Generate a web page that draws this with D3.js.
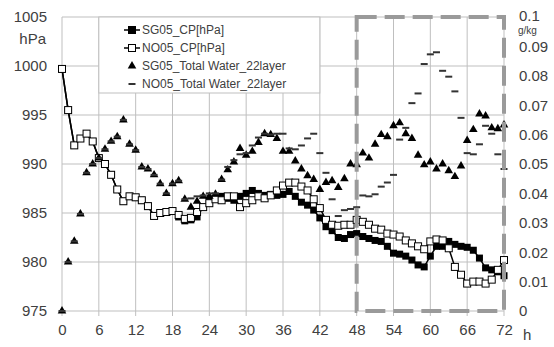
<!DOCTYPE html>
<html>
<head>
<meta charset="utf-8">
<script src="https://cdn.jsdelivr.net/npm/d3@7"></script>
<style>
  body { margin: 0; background: #fff; }
  text { font-family: "Liberation Sans", Arial, sans-serif; fill: #404040; }
</style>
</head>
<body>
<div id="chart"></div>
<script>
// hourly data, 0..72 h
const hours = d3.range(0, 73);

const sgCP = [999.7, 995.5, 991.9, 992.6, 993.1, 992.3, 990.6, 990.0, 988.9, 987.4,
  986.2, 986.7, 986.6, 986.3, 985.7, 984.7, 985.0, 985.1, 985.2, 984.6,
  984.2, 984.3, 984.6, 985.6, 986.2, 986.5, 986.7, 986.5, 986.3, 986.7,
  987.0, 987.3, 987.0, 986.8, 986.9, 986.8, 986.9, 987.2, 986.7, 986.1,
  985.8, 985.3, 984.5, 983.6, 983.2, 982.5, 982.4, 982.8, 982.9, 982.6,
  982.4, 982.2, 982.1, 981.6, 980.9, 980.8, 980.6, 980.2, 979.7, 979.5,
  980.6, 981.6, 981.6, 982.1, 981.8, 981.6, 981.5, 981.2, 980.4, 979.4,
  979.2, 979.0, 978.6];

const noCP = [999.7, 995.5, 991.9, 992.6, 993.1, 992.3, 990.6, 990.0, 988.9, 987.4,
  986.2, 986.7, 986.6, 986.3, 985.7, 984.7, 985.0, 985.1, 985.2, 984.8,
  984.4, 984.5, 985.1, 985.6, 986.0, 986.4, 986.3, 986.7, 986.7, 985.6,
  986.0, 986.3, 986.7, 986.5, 986.8, 987.3, 987.8, 988.1, 988.1, 987.7,
  987.3, 986.4, 985.5, 984.3, 983.8, 983.7, 983.8, 983.8, 984.3, 984.1,
  983.8, 983.4, 983.3, 982.9, 982.8, 982.6, 982.2, 981.9, 981.6, 981.3,
  982.1, 982.3, 982.2, 981.4, 979.5, 978.7, 977.8, 978.0, 978.0, 977.8,
  978.2, 979.2, 980.2];

const sgTW = [0, 0.0167, 0.0237, 0.0330, 0.0470, 0.0500, 0.0520, 0.0550, 0.0577, 0.0593,
  0.0650, 0.0567, 0.0547, 0.0490, 0.0483, 0.0463, 0.0433, 0.0400, 0.0433, 0.0443,
  0.0380, 0.0353, 0.0373, 0.0390, 0.0390, 0.0397, 0.0447, 0.0480, 0.0507, 0.0553,
  0.0530, 0.0543, 0.0573, 0.0603, 0.0600, 0.0587, 0.0543, 0.0543, 0.0510, 0.0483,
  0.0460, 0.0447, 0.0413, 0.0437, 0.0443, 0.0420, 0.0450, 0.0500, 0.0497, 0.0537,
  0.0520, 0.0567, 0.0600, 0.0593, 0.0630, 0.0640, 0.0603, 0.0587, 0.0530, 0.0497,
  0.0507, 0.0483, 0.0500, 0.0477, 0.0457, 0.0493, 0.0580, 0.0617, 0.0670, 0.0663,
  0.0623, 0.0620, 0.0633];

const noTW = [0, 0.0167, 0.0237, 0.0330, 0.0470, 0.0500, 0.0520, 0.0550, 0.0577, 0.0593,
  0.0650, 0.0567, 0.0547, 0.0490, 0.0483, 0.0463, 0.0433, 0.0400, 0.0433, 0.0443,
  0.0380, 0.0383, 0.0390, 0.0393, 0.0400, 0.0400, 0.0447, 0.0490, 0.0513, 0.0533,
  0.0537, 0.0563, 0.0590, 0.0603, 0.0600, 0.0603, 0.0603, 0.0553, 0.0550, 0.0563,
  0.0587, 0.0603, 0.0537, 0.0470, 0.0380, 0.0323, 0.0343, 0.0347, 0.0353, 0.0393,
  0.0390, 0.0397, 0.0423, 0.0437, 0.0463, 0.0583, 0.0623, 0.0707, 0.0740, 0.0840,
  0.0873, 0.0880, 0.0817, 0.0797, 0.0747, 0.0657, 0.0537, 0.0533, 0.0567, 0.0630,
  0.0603, 0.0533, 0.0483];

const xTicks = d3.range(0, 73, 6);
const leftTicks = [975, 980, 985, 990, 995, 1000, 1005];
const rightTicks = [0, 0.01, 0.02, 0.03, 0.04, 0.05, 0.06, 0.07, 0.08, 0.09, 0.1];
const legendNames = ['SG05_CP[hPa]', 'NO05_CP[hPa]', 'SG05_Total Water_22layer', 'NO05_Total Water_22layer'];

const W = 554, H = 347;
const pL = 62, pR = 504, pT = 17, pB = 311;

const svg = d3.select('#chart').append('svg').attr('width', W).attr('height', H);

const x = d3.scaleLinear().domain([0, 72]).range([pL, pR]);
const yL = d3.scaleLinear().domain([975, 1005]).range([pB, pT]);
const yR = d3.scaleLinear().domain([0, 0.1]).range([pB, pT]);

const gridColor = '#bfbfbf';

// grid
const grid = svg.append('g');
grid.selectAll('line.v').data(xTicks).join('line')
  .attr('class', 'v')
  .attr('x1', d => x(d)).attr('x2', d => x(d))
  .attr('y1', pT).attr('y2', pB + 5)
  .attr('stroke', gridColor).attr('stroke-width', 1);
grid.selectAll('line.h').data(leftTicks).join('line')
  .attr('class', 'h')
  .attr('x1', pL).attr('x2', pR)
  .attr('y1', d => yL(d)).attr('y2', d => yL(d))
  .attr('stroke', gridColor).attr('stroke-width', 1);

// axes text
const axL = svg.append('g').attr('transform', `translate(${pL},0)`)
  .call(d3.axisLeft(yL).tickValues(leftTicks).tickSize(0).tickPadding(15).tickFormat(d3.format('d')));
const axR = svg.append('g').attr('transform', `translate(${pR},0)`)
  .call(d3.axisRight(yR).tickValues(rightTicks).tickSize(0).tickPadding(15).tickFormat(d => d === 0 ? '0' : d3.format('.2~f')(d)));
const axB = svg.append('g').attr('transform', `translate(0,${pB})`)
  .call(d3.axisBottom(x).tickValues(xTicks).tickSize(0).tickPadding(13));
[axL, axR, axB].forEach(a => {
  a.select('.domain').remove();
  a.selectAll('text').attr('font-size', 15).attr('fill', '#404040')
    .attr('font-family', '"Liberation Sans", Arial, sans-serif');
});
// nudge the 0.1 label up a little to leave room for the unit
axR.selectAll('.tick').filter(d => d === 0.1).select('text').attr('dy', '0.2em');

svg.append('text').attr('x', 46).attr('y', 44).attr('text-anchor', 'end').attr('font-size', 15).text('hPa');
svg.append('text').attr('x', 518).attr('y', 34).attr('font-size', 10).text('g/kg');
svg.append('text').attr('x', 523).attr('y', 340).attr('font-size', 15).text('h');

// CP lines
const lineL = d3.line().x((d, i) => x(hours[i])).y(d => yL(d));
svg.append('path').datum(sgCP).attr('d', lineL).attr('fill', 'none').attr('stroke', '#000').attr('stroke-width', 1.5);
svg.append('path').datum(noCP).attr('d', lineL).attr('fill', 'none').attr('stroke', '#000').attr('stroke-width', 1.5);

const sq = 7;
svg.append('g').selectAll('rect').data(sgCP).join('rect')
  .attr('x', (d, i) => x(hours[i]) - sq / 2).attr('y', d => yL(d) - sq / 2)
  .attr('width', sq).attr('height', sq).attr('fill', '#000');
svg.append('g').selectAll('rect').data(noCP).join('rect')
  .attr('x', (d, i) => x(hours[i]) - sq / 2).attr('y', d => yL(d) - sq / 2)
  .attr('width', sq).attr('height', sq).attr('fill', '#fff').attr('stroke', '#000').attr('stroke-width', 1);

// total water
const tri = d3.symbol(d3.symbolTriangle).size(32);
svg.append('g').selectAll('path').data(sgTW).join('path')
  .attr('transform', (d, i) => `translate(${x(hours[i])},${yR(d)})`)
  .attr('d', tri).attr('fill', '#000');
svg.append('g').selectAll('rect').data(noTW).join('rect')
  .attr('x', (d, i) => x(hours[i]) - 3.5).attr('y', d => yR(d) - 1)
  .attr('width', 7).attr('height', 2).attr('fill', '#333');

// legend
const lg = svg.append('g');
lg.append('rect').attr('x', x(6)).attr('y', pT).attr('width', x(42) - x(6)).attr('height', 76)
  .attr('fill', '#fff').attr('stroke', gridColor).attr('stroke-width', 1);
const ly = [30, 48, 66, 84];
legendNames.forEach((name, i) => {
  const g = lg.append('g').attr('transform', `translate(132,${ly[i]})`);
  if (i < 2) {
    g.append('line').attr('x1', -8).attr('x2', 8).attr('stroke', '#000').attr('stroke-width', 1.5);
    g.append('rect').attr('x', -sq / 2).attr('y', -sq / 2).attr('width', sq).attr('height', sq)
      .attr('fill', i === 0 ? '#000' : '#fff').attr('stroke', '#000');
  } else if (i === 2) {
    g.append('path').attr('d', tri).attr('fill', '#000');
  } else {
    g.append('rect').attr('x', -3.5).attr('y', -1).attr('width', 7).attr('height', 2).attr('fill', '#333');
  }
  g.append('text').attr('x', 10).attr('dy', '0.35em').attr('font-size', 12).text(name);
});

// dashed highlight box 48..72 h
svg.append('rect').attr('x', x(48)).attr('y', pT).attr('width', x(72) - x(48)).attr('height', pB - pT)
  .attr('fill', 'none').attr('stroke', '#9a9a9a').attr('stroke-width', 4).attr('stroke-dasharray', '20,8');
</script>
</body>
</html>
